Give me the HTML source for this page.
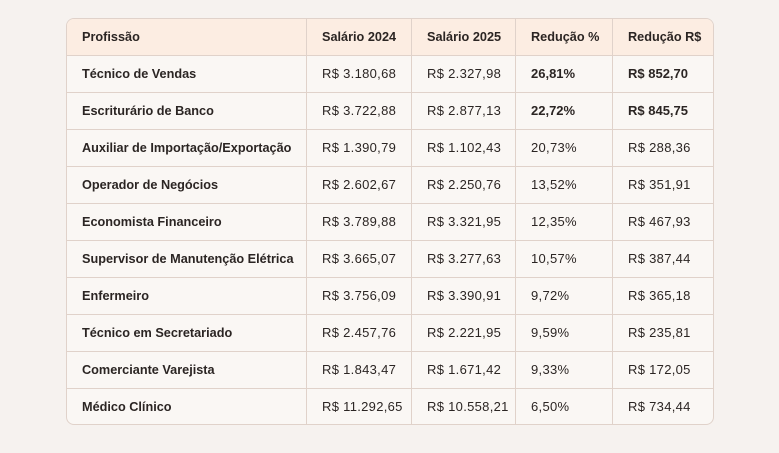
<!DOCTYPE html>
<html><head><meta charset="utf-8"><style>
html,body{margin:0;padding:0;background:#f6f2ef;width:779px;height:453px;overflow:hidden;}
.wrap{position:absolute;left:66px;top:18px;width:646px;height:405px;border:1px solid #e0d2ca;border-radius:8px;overflow:hidden;background:#faf7f4;}
table{border-collapse:collapse;table-layout:fixed;width:648px;margin:-1px;font-family:"Liberation Sans",sans-serif;font-size:13px;letter-spacing:0.3px;color:#2b2523;line-height:14px;}
td,th{border:1px solid #e0d2ca;height:36px;padding:0 0 0 15px;text-align:left;white-space:nowrap;vertical-align:middle;overflow:visible;}
th{background:#fcede2;font-weight:bold;font-size:12.7px;letter-spacing:0;}
td:first-child{font-weight:bold;font-size:12.7px;letter-spacing:0;}
.b{font-weight:bold;letter-spacing:0;}
</style></head><body>
<div class="wrap"><table>
<colgroup><col style="width:240px"><col style="width:105px"><col style="width:104px"><col style="width:97px"><col style="width:102px"></colgroup>
<tr><th>Profissão</th><th>Salário 2024</th><th>Salário 2025</th><th>Redução %</th><th>Redução R$</th></tr>
<tr><td>Técnico de Vendas</td><td>R$ 3.180,68</td><td>R$ 2.327,98</td><td class="b">26,81%</td><td class="b">R$ 852,70</td></tr>
<tr><td>Escriturário de Banco</td><td>R$ 3.722,88</td><td>R$ 2.877,13</td><td class="b">22,72%</td><td class="b">R$ 845,75</td></tr>
<tr><td>Auxiliar de Importação/Exportação</td><td>R$ 1.390,79</td><td>R$ 1.102,43</td><td>20,73%</td><td>R$ 288,36</td></tr>
<tr><td>Operador de Negócios</td><td>R$ 2.602,67</td><td>R$ 2.250,76</td><td>13,52%</td><td>R$ 351,91</td></tr>
<tr><td>Economista Financeiro</td><td>R$ 3.789,88</td><td>R$ 3.321,95</td><td>12,35%</td><td>R$ 467,93</td></tr>
<tr><td>Supervisor de Manutenção Elétrica</td><td>R$ 3.665,07</td><td>R$ 3.277,63</td><td>10,57%</td><td>R$ 387,44</td></tr>
<tr><td>Enfermeiro</td><td>R$ 3.756,09</td><td>R$ 3.390,91</td><td>9,72%</td><td>R$ 365,18</td></tr>
<tr><td>Técnico em Secretariado</td><td>R$ 2.457,76</td><td>R$ 2.221,95</td><td>9,59%</td><td>R$ 235,81</td></tr>
<tr><td>Comerciante Varejista</td><td>R$ 1.843,47</td><td>R$ 1.671,42</td><td>9,33%</td><td>R$ 172,05</td></tr>
<tr><td>Médico Clínico</td><td>R$ 11.292,65</td><td>R$ 10.558,21</td><td>6,50%</td><td>R$ 734,44</td></tr>
</table></div>
</body></html>
